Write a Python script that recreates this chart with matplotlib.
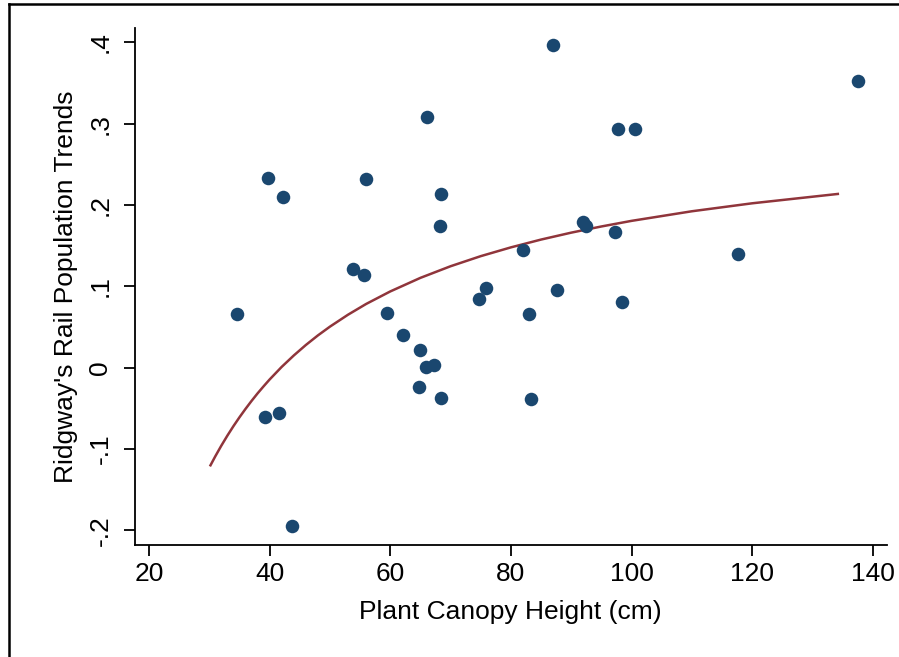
import numpy as np
import matplotlib.pyplot as plt
from matplotlib.lines import Line2D

plt.rcParams['font.family'] = ['Liberation Sans', 'DejaVu Sans']

# scatter data
canopy = [34.6, 39.7, 42.2, 39.3, 41.5, 43.7, 53.8, 55.6, 55.9, 59.5,
          62.1, 64.9, 64.8, 65.9, 67.3, 66.1, 68.4, 68.3, 68.4, 74.7,
          75.9, 82.0, 83.0, 83.3, 87.0, 87.7, 92.0, 92.5, 97.3, 97.8,
          98.4, 100.6, 117.7, 137.6]
trend = [0.066, 0.233, 0.210, -0.061, -0.056, -0.195, 0.121, 0.114, 0.232, 0.067,
         0.040, 0.022, -0.024, 0.001, 0.003, 0.308, 0.214, 0.174, -0.037, 0.084,
         0.098, 0.145, 0.066, -0.038, 0.397, 0.095, 0.179, 0.174, 0.167, 0.294,
         0.081, 0.294, 0.140, 0.353]

# fitted curve
fit_x = [30.2, 31, 32, 33, 34, 35, 36, 37, 38, 39, 40, 42, 44, 46, 48, 50,
         53, 56, 60, 65, 70, 75, 80, 85, 90, 95, 100, 110, 120, 134.2]
fit_y = [-0.120, -0.1089, -0.0958, -0.0835, -0.0719, -0.0610, -0.0507,
         -0.0409, -0.0316, -0.0229, -0.0145, 0.0010, 0.0150, 0.0279, 0.0397,
         0.0505, 0.0652, 0.0784, 0.0938, 0.1105, 0.1248, 0.1372, 0.1480,
         0.1576, 0.1661, 0.1737, 0.1806, 0.1924, 0.2022, 0.2137]

xticks = [20, 40, 60, 80, 100, 120, 140]
yticks = [-0.2, -0.1, 0, 0.1, 0.2, 0.3, 0.4]
ylabels = ['-.2', '-.1', '0', '.1', '.2', '.3', '.4']

fig = plt.figure(figsize=(8.99, 6.57), dpi=100)
ax = fig.add_axes([0.1498, 0.1705, 0.9863 - 0.1498, 0.9574 - 0.1705])

ax.scatter(canopy, trend, s=95, color='#1a476f', linewidths=0, zorder=3)
ax.plot(fit_x, fit_y, color='#90353b', lw=1.8, zorder=2)

ax.set_xlim(17.63, 142.3)
ax.set_ylim(-0.218, 0.4178)
ax.set_xticks(xticks)
ax.set_yticks(yticks)
ax.set_yticklabels(ylabels)

for s in ['top', 'right']:
    ax.spines[s].set_visible(False)
for s in ['left', 'bottom']:
    ax.spines[s].set_linewidth(1.3)

ax.tick_params(axis='both', length=8, width=1.3, labelsize=19)
ax.tick_params(axis='x', pad=4)
ax.tick_params(axis='y', pad=8)
for lab in ax.get_yticklabels():
    lab.set_rotation(90)
    lab.set_va('center')
    lab.set_ha('right')

ax.set_xlabel('Plant Canopy Height (cm)', fontsize=19, labelpad=10)
ax.set_ylabel("Ridgway's Rail Population Trends", fontsize=19, labelpad=7.5)

# outer frame (only top and left visible)
fig.add_artist(Line2D([8.5 / 899, 1], [1 - 4 / 657, 1 - 4 / 657],
                      transform=fig.transFigure, color='black', lw=1.8))
fig.add_artist(Line2D([8.5 / 899, 8.5 / 899], [0, 1 - 4 / 657],
                      transform=fig.transFigure, color='black', lw=1.8))

fig.savefig('out.png', dpi=100)
